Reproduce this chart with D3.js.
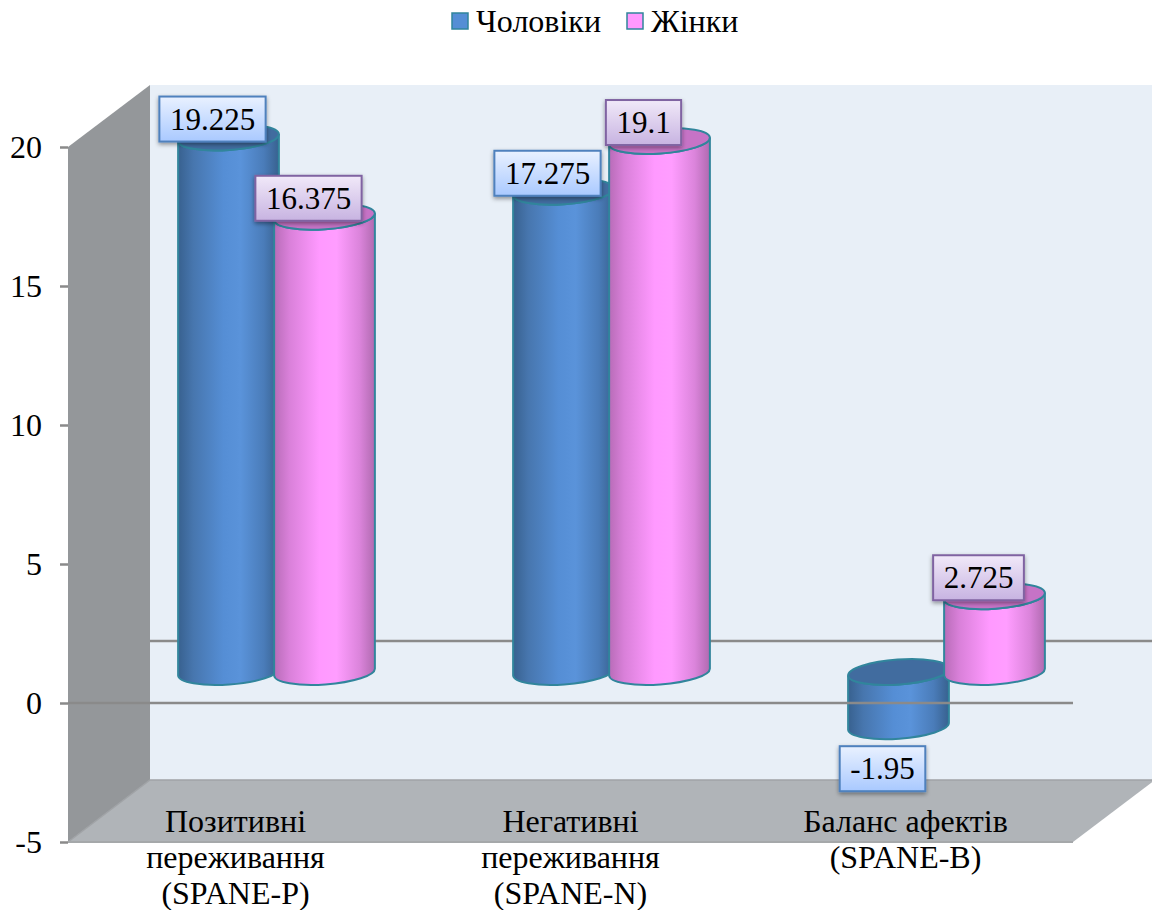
<!DOCTYPE html>
<html>
<head>
<meta charset="utf-8">
<style>
  html, body { margin: 0; padding: 0; background: #fff; }
  svg { display: block; }
  text { font-family: "Liberation Serif", serif; fill: #000; }
</style>
</head>
<body>
<div id="wrapper"></div>
<script src="https://cdn.jsdelivr.net/npm/d3@7"></script>
<script>
// 1. Data
const categories = [
    ["Позитивні", "переживання", "(SPANE-P)"],
    ["Негативні", "переживання", "(SPANE-N)"],
    ["Баланс афектів", "(SPANE-B)"],
]
const seriesNames = ["Чоловіки", "Жінки"]
const men = [19.225, 17.275, -1.95]
const women = [16.375, 19.1, 2.725]
const yTicks = [-5, 0, 5, 10, 15, 20]

function drawChart() {
    // 2. Dimensions
    const dimensions = {
        width: 1152,
        height: 910,
        frontLeft: 68,
        frontRight: 1073,
        frontTop: 147,
        frontBottom: 842,
        depthX: 82,
        depthY: 62,
    }
    const barRx = 50.5
    const barRy = 12.5
    const tilt = 4
    const barStep = 96
    const fontSize = 32
    const valueFontSize = 31

    // 3. Canvas
    const svg = d3.select("#wrapper").append("svg")
        .attr("width", dimensions.width)
        .attr("height", dimensions.height)

    const defs = svg.append("defs")
    const addGradient = (id, horizontal, stops) => {
        const g = defs.append("linearGradient").attr("id", id)
            .attr("x1", 0).attr("y1", 0)
            .attr("x2", horizontal ? 1 : 0).attr("y2", horizontal ? 0 : 1)
        stops.forEach(s => g.append("stop").attr("offset", s[0]).attr("stop-color", s[1]))
    }
    addGradient("barMen", true, [[0, "#38618f"], [0.15, "#4776ae"], [0.45, "#558ed5"], [0.62, "#5a93da"], [0.85, "#4a7cb9"], [1, "#38618f"]])
    addGradient("barWomen", true, [[0, "#b86cb8"], [0.15, "#d980d9"], [0.45, "#ff99ff"], [0.62, "#ff9dff"], [0.85, "#db84db"], [1, "#b06ab0"]])
    addGradient("labelMen", false, [[0, "#e9f1ff"], [1, "#a9c9ff"]])
    addGradient("labelWomen", false, [[0, "#f1e9f9"], [1, "#c7b3e1"]])
    const shadow = defs.append("filter").attr("id", "labelShadow")
        .attr("x", "-20%").attr("y", "-20%").attr("width", "140%").attr("height", "150%")
    shadow.append("feDropShadow")
        .attr("dx", 0).attr("dy", 2).attr("stdDeviation", 2)
        .attr("flood-color", "#000").attr("flood-opacity", 0.4)

    // 4. Scales
    const yScale = d3.scaleLinear()
        .domain([-5, 20])
        .range([dimensions.frontBottom, dimensions.frontTop])
    const xScale = d3.scaleBand()
        .domain(d3.range(categories.length))
        .range([dimensions.frontLeft, dimensions.frontRight])

    // 5. Walls and floor
    const { frontLeft: fl, frontRight: fr, frontTop: ft, frontBottom: fb, depthX: dx, depthY: dy } = dimensions
    const polygon = d3.line()
    const walls = svg.append("g")
    walls.append("path")
        .attr("d", polygon([[fl + dx, ft - dy], [fr + dx, ft - dy], [fr + dx, fb - dy], [fl + dx, fb - dy]]) + "Z")
        .attr("fill", "#e8eff7")
    walls.append("path")
        .attr("d", polygon([[fl, ft], [fl + dx, ft - dy], [fl + dx, fb - dy], [fl, fb]]) + "Z")
        .attr("fill", "#94979a")
    walls.append("path")
        .attr("d", polygon([[fl, fb], [fl + dx, fb - dy], [fr + dx, fb - dy], [fr, fb]]) + "Z")
        .attr("fill", "#b0b4b8")
    walls.append("path")
        .attr("d", polygon([[fl, fb], [fl + dx, fb - dy], [fr + dx, fb - dy]]))
        .attr("fill", "none").attr("stroke", "#a0a3a6").attr("stroke-width", 1.5)
    walls.append("path")
        .attr("d", polygon([[fl, fb], [fr, fb]]))
        .attr("stroke", "#a5a8aa").attr("stroke-width", 2)

    // zero line on the back wall
    svg.append("line")
        .attr("x1", fl + dx).attr("x2", fr + dx)
        .attr("y1", yScale(0) - dy).attr("y2", yScale(0) - dy)
        .attr("stroke", "#8a8a8a").attr("stroke-width", 2.5)

    // 6. Cylinders
    const rad = tilt * Math.PI / 180
    const ex = barRx * Math.cos(rad)
    const ey = barRx * Math.sin(rad)

    const barData = []
    men.forEach((v, i) => barData.push({ i, v, s: 0 }))
    women.forEach((v, i) => barData.push({ i, v, s: 1 }))
    const barX = d => xScale(d.i) + xScale.bandwidth() / 2 + dx / 2 + (d.s - 0.5) * barStep
    const barY = v => yScale(v) - dy / 2

    const bars = svg.selectAll(".bar").data(barData).enter().append("g").attr("class", "bar")
    const strokeColor = "#31859c"
    bars.append("path")
        .attr("d", d => {
            const cx = barX(d)
            const top = barY(Math.max(d.v, 0))
            const bottom = barY(Math.min(d.v, 0))
            return `M${cx - ex},${top + ey}L${cx - ex},${bottom + ey}`
                + `A${barRx},${barRy} ${-tilt} 0 0 ${cx + ex},${bottom - ey}`
                + `L${cx + ex},${top - ey}`
                + `A${barRx},${barRy} ${-tilt} 0 1 ${cx - ex},${top + ey}Z`
        })
        .attr("fill", d => d.s === 0 ? "url(#barMen)" : "url(#barWomen)")
        .attr("stroke", strokeColor).attr("stroke-width", 2)
    bars.append("ellipse")
        .attr("rx", barRx).attr("ry", barRy)
        .attr("transform", d => `translate(${barX(d)},${barY(Math.max(d.v, 0))}) rotate(${-tilt})`)
        .attr("fill", d => d.s === 0 ? "#416c9f" : "#c673c6")
        .attr("stroke", strokeColor).attr("stroke-width", 2)

    // 7. Axis and zero line in front
    const yAxis = svg.append("g")
        .attr("transform", `translate(${fl},0)`)
        .call(d3.axisLeft(yScale).tickValues(yTicks).tickSize(8).tickPadding(18).tickFormat(d3.format("d")))
    yAxis.select(".domain").remove()
    yAxis.selectAll(".tick line").attr("stroke", "#8a8a8a").attr("stroke-width", 2.5)
    yAxis.selectAll(".tick text")
        .attr("font-family", "Liberation Serif").attr("font-size", fontSize).attr("fill", "#000")
        .text(d => String(d))

    svg.append("line")
        .attr("x1", fl).attr("x2", fr)
        .attr("y1", yScale(0)).attr("y2", yScale(0))
        .attr("stroke", "#8a8a8a").attr("stroke-width", 2.5)

    // 8. Category labels
    categories.forEach((lines, i) => {
        const text = svg.append("text")
            .attr("text-anchor", "middle")
            .attr("font-size", fontSize)
        lines.forEach((line, j) => {
            text.append("tspan")
                .attr("x", xScale(i) + xScale.bandwidth() / 2)
                .attr("y", 832 + j * 36)
                .text(line)
        })
    })

    // 9. Value labels
    const labelHeight = 45
    const labels = svg.selectAll(".value-label").data(barData).enter().append("g")
        .attr("class", "value-label")
        .attr("transform", d => {
            const y = d.v < 0 ? barY(d.v) + 42.5 : barY(d.v) - 18.5
            return `translate(${barX(d) - 16},${y})`
        })
    const labelRects = labels.append("rect")
        .attr("fill", d => d.s === 0 ? "url(#labelMen)" : "url(#labelWomen)")
        .attr("stroke", d => d.s === 0 ? "#4f81bd" : "#8064a2")
        .attr("stroke-width", 2)
        .attr("filter", "url(#labelShadow)")
    const labelTexts = labels.append("text")
        .attr("text-anchor", "middle")
        .attr("font-size", valueFontSize)
        .attr("y", 10.5)
        .text(d => String(d.v))
    labelRects.each(function (d, i) {
        const w = labelTexts.nodes()[i].getComputedTextLength() + 21
        d3.select(this)
            .attr("x", -w / 2).attr("y", -labelHeight / 2)
            .attr("width", w).attr("height", labelHeight)
    })

    // 10. Legend
    const legendX = [452, 627]
    const legendFill = ["#558ed5", "#ff99ff"]
    const legend = svg.selectAll(".legend").data(seriesNames).enter().append("g").attr("class", "legend")
    legend.append("rect")
        .attr("x", (d, i) => legendX[i]).attr("y", 13)
        .attr("width", 16).attr("height", 16)
        .attr("fill", (d, i) => legendFill[i])
        .attr("stroke", strokeColor).attr("stroke-width", 1.5)
    legend.append("text")
        .attr("x", (d, i) => legendX[i] + 24).attr("y", 32)
        .attr("font-size", fontSize)
        .text(d => d)
}
drawChart()
</script>
</body>
</html>
